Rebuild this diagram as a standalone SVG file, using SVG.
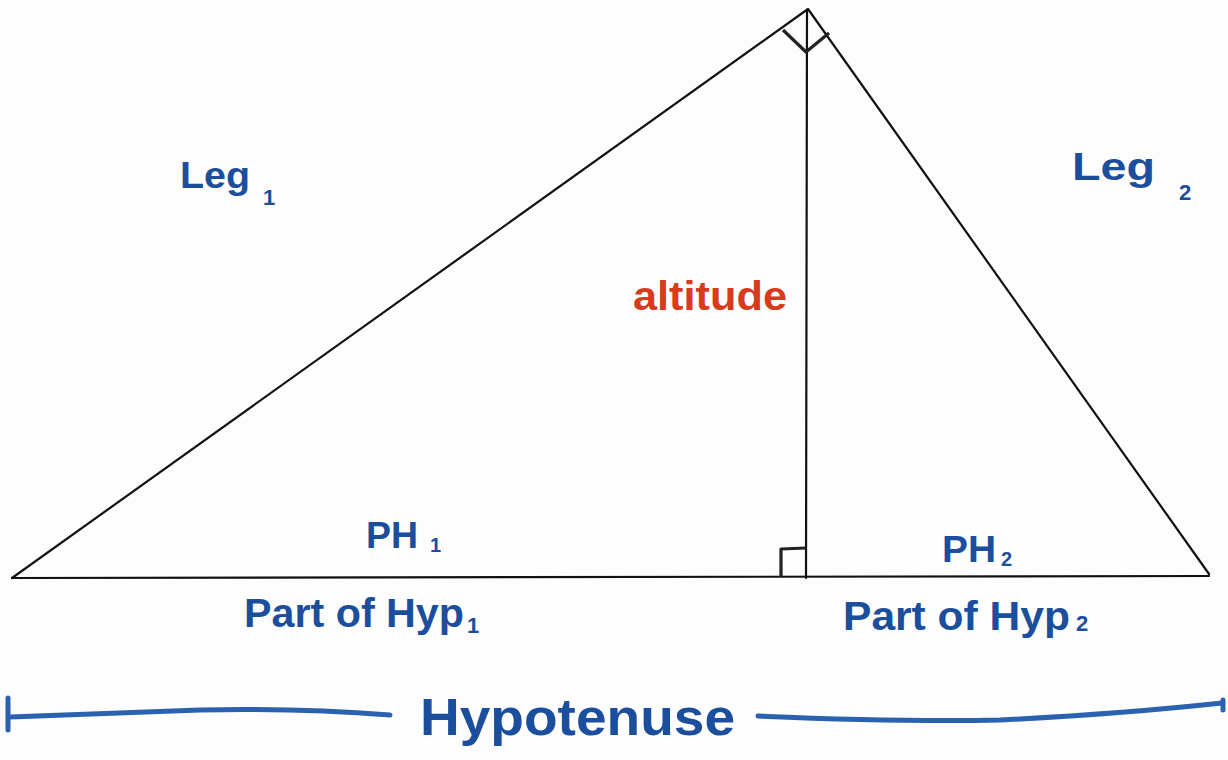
<svg xmlns="http://www.w3.org/2000/svg" width="1228" height="760" viewBox="0 0 1228 760">
<style>
.edge{fill:none;stroke:#111;stroke-width:2.2;stroke-linejoin:round;stroke-linecap:round}
.mark{fill:none;stroke:#222;stroke-width:3.2;stroke-linejoin:round}
.blue{fill:#1b4e9c;font-family:"Liberation Sans","DejaVu Sans",sans-serif;font-weight:bold}
.red{fill:#d83a1c;font-family:"Liberation Sans","DejaVu Sans",sans-serif;font-weight:bold}
.bline{fill:none;stroke:#2a62b0;stroke-width:5;stroke-linecap:round}
</style>
<rect width="1228" height="760" fill="#fdfdfd"/>
<g id="triangle">
<path class="edge" d="M12 578 L808 9 L1209 574"/>
<path class="edge" d="M12 578 L1209 576"/>
</g>
<g id="altitude-line">
<path class="edge" d="M807 10 L806 578"/>
<path class="mark" d="M783 30 L806 52 L829 33"/>
<path class="mark" d="M781 577 L781 549 L806 548"/>
</g>
<g id="leg1">
<text class="blue" x="180" y="188" font-size="36" textLength="70" lengthAdjust="spacingAndGlyphs">Leg</text>
<text class="blue" x="263" y="205" font-size="22">1</text>
</g>
<g id="leg2">
<text class="blue" x="1072" y="180" font-size="38" textLength="83" lengthAdjust="spacingAndGlyphs">Leg</text>
<text class="blue" x="1179" y="200" font-size="22">2</text>
</g>
<g id="altitude">
<text class="red" x="633" y="310" font-size="40" textLength="154" lengthAdjust="spacingAndGlyphs">altitude</text>
</g>
<g id="ph1">
<text class="blue" x="366" y="548" font-size="36" textLength="52" lengthAdjust="spacingAndGlyphs">PH</text>
<text class="blue" x="430" y="552" font-size="20">1</text>
</g>
<g id="ph2">
<text class="blue" x="942" y="562" font-size="36" textLength="54" lengthAdjust="spacingAndGlyphs">PH</text>
<text class="blue" x="1001" y="566" font-size="20">2</text>
</g>
<g id="part1">
<text class="blue" x="244" y="627" font-size="40" textLength="220" lengthAdjust="spacingAndGlyphs">Part of Hyp</text>
<text class="blue" x="467" y="633" font-size="22">1</text>
</g>
<g id="part2">
<text class="blue" x="843" y="630" font-size="40" textLength="227" lengthAdjust="spacingAndGlyphs">Part of Hyp</text>
<text class="blue" x="1076" y="631" font-size="22">2</text>
</g>
<g id="hypotenuse">
<path class="bline" d="M8 698 L8 730"/>
<path class="bline" d="M10 717 Q120 713 200 710 Q300 708 390 715"/>
<path class="bline" d="M758 716 Q900 722 1000 720 Q1120 714 1222 703"/>
<path class="bline" d="M1223 700 L1223 710"/>
<text class="blue" x="420" y="735" font-size="52" textLength="315" lengthAdjust="spacingAndGlyphs">Hypotenuse</text>
</g>
</svg>
